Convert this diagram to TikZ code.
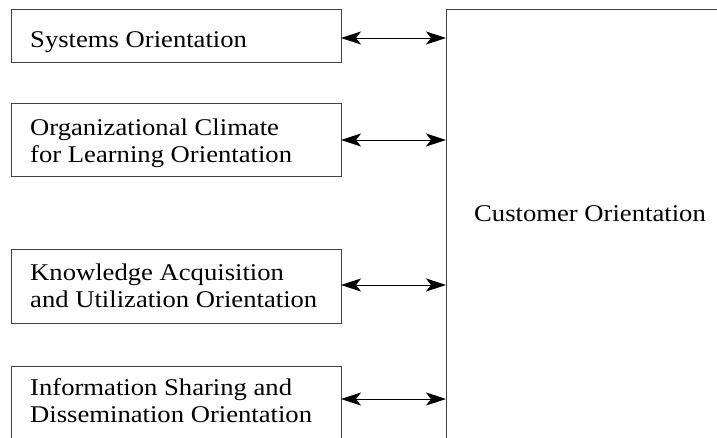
\documentclass[tikz,border=0pt]{standalone}
\usepackage{fontspec}
\setmainfont{Liberation Serif}[FakeStretch=1.11]
\usetikzlibrary{arrows.meta}
\begin{document}
\begin{tikzpicture}[x=1pt,y=-1pt,
  lbox/.style={draw=black!75, line width=1pt},
  lbl/.style={anchor=base west, inner sep=0pt, font=\fontsize{24}{27}\selectfont, align=left},
  link/.style={line width=0.9pt, {Stealth[length=20pt,width=13pt,inset=5pt]}-{Stealth[length=20pt,width=13pt,inset=5pt]}}]
\useasboundingbox (0,0) rectangle (717,438);
\clip (0,0) rectangle (717,438);
% left boxes
\draw[lbox] (11,9.5) rectangle (341,63);
\draw[lbox] (11,104) rectangle (341,177);
\draw[lbox] (11,250) rectangle (341,323);
\draw[lbox] (11,366) rectangle (341,450);
\coordinate (b1) at (341,38);
\coordinate (b2) at (341,140);
\coordinate (b3) at (341,285);
\coordinate (b4) at (341,399);
% multi-line nodes: base anchor is the baseline of the last line
\node[lbl] (t1) at (30,48) {Systems Orientation};
\node[lbl] (t2) at (30,163) {Organizational Climate\\for Learning Orientation};
\node[lbl] (t3) at (30,307) {Knowledge Acquisition\\and Utilization Orientation};
\node[lbl] (t4) at (30,422) {Information Sharing and\\Dissemination Orientation};
% big box
\draw[lbox] (730,9.5) -- (446,9.5) -- (446,450);
\coordinate (c1) at (446,38);
\coordinate (c2) at (446,140);
\coordinate (c3) at (446,285);
\coordinate (c4) at (446,399);
\node[lbl, anchor=base] (co) at (590,222) {Customer Orientation};
\draw[link] (b1) -- (c1);
\draw[link] (b2) -- (c2);
\draw[link] (b3) -- (c3);
\draw[link] (b4) -- (c4);
\end{tikzpicture}
\end{document}
